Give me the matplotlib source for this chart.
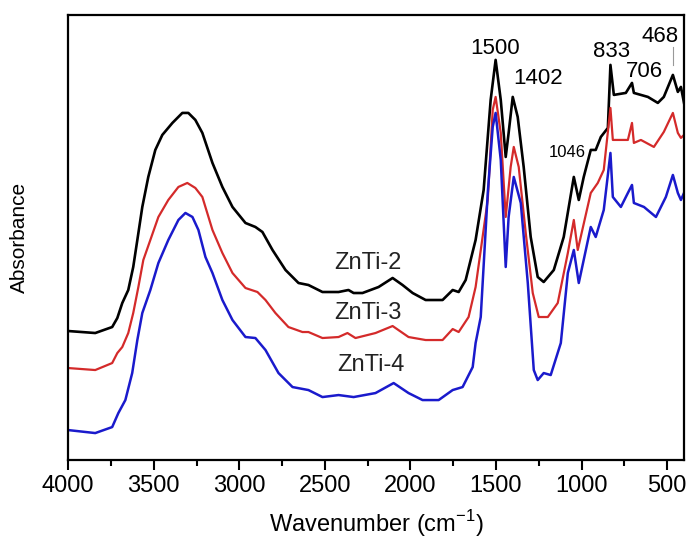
import matplotlib.pyplot as plt
import numpy as np

plt.rcParams['font.family'] = ['Liberation Sans', 'DejaVu Sans']
plt.rcParams['mathtext.fontset'] = 'custom'
plt.rcParams['mathtext.rm'] = 'Liberation Sans'

# ZnTi-2 (black)
wn_2 = np.array([4000, 3842, 3743, 3713, 3684, 3649, 3620, 3596, 3567, 3532, 3491, 3450,
                 3391, 3333, 3298, 3257, 3216, 3157, 3099, 3040, 2964, 2906, 2865, 2806,
                 2730, 2654, 2596, 2514, 2420, 2362, 2332, 2280, 2186, 2104, 2046, 1987,
                 1911, 1812, 1753, 1718, 1677, 1619, 1572, 1531, 1502, 1472, 1443, 1426,
                 1402, 1373, 1338, 1297, 1256, 1221, 1162, 1104, 1045, 1016, 987, 946,
                 917, 887, 846, 831, 811, 741, 705, 694, 612, 554, 519, 466, 437, 419, 401])
abs_2 = np.array([129, 127, 133, 142, 157, 170, 193, 220, 253, 283, 310, 325,
                  337, 347, 347, 340, 327, 297, 273, 253, 237, 233, 228, 210,
                  190, 177, 175, 168, 168, 170, 167, 167, 173, 182, 175, 167,
                  160, 160, 170, 168, 180, 220, 270, 360, 400, 360, 303, 327,
                  363, 343, 293, 223, 183, 178, 190, 223, 283, 260, 283, 310,
                  310, 323, 332, 395, 365, 367, 377, 367, 363, 357, 363, 385, 368, 373, 357])

# ZnTi-3 (red)
wn_3 = np.array([4000, 3842, 3743, 3713, 3684, 3649, 3620, 3590, 3561, 3520, 3473, 3415,
                 3356, 3304, 3257, 3216, 3157, 3099, 3040, 2964, 2894, 2847, 2789, 2713,
                 2631, 2596, 2514, 2420, 2368, 2321, 2204, 2104, 2011, 1911, 1812, 1753,
                 1718, 1660, 1619, 1548, 1519, 1502, 1472, 1443, 1414, 1396, 1367, 1326,
                 1285, 1250, 1197, 1139, 1080, 1045, 1022, 946, 905, 870, 831, 817, 729,
                 705, 694, 653, 577, 519, 466, 437, 419, 401])
abs_3 = np.array([92, 90, 97, 107, 113, 127, 147, 173, 200, 220, 243, 260,
                  273, 277, 272, 263, 230, 207, 187, 172, 168, 160, 147, 133,
                  128, 128, 122, 123, 127, 122, 127, 134, 123, 120, 120, 131,
                  128, 143, 173, 260, 350, 363, 327, 243, 293, 313, 293, 227,
                  167, 143, 143, 157, 207, 240, 210, 267, 277, 290, 352, 320, 320,
                  337, 317, 320, 313, 328, 347, 327, 322, 325])

# ZnTi-4 (blue)
wn_4 = np.array([4000, 3842, 3743, 3707, 3666, 3626, 3596, 3567, 3520, 3473, 3415, 3356,
                 3315, 3274, 3239, 3198, 3157, 3099, 3040, 2964, 2906, 2847, 2771, 2689,
                 2596, 2514, 2420, 2332, 2204, 2098, 2011, 1929, 1835, 1753, 1695, 1636,
                 1619, 1589, 1548, 1519, 1502, 1472, 1443, 1426, 1396, 1355, 1314, 1279,
                 1256, 1221, 1180, 1121, 1080, 1045, 1016, 946, 917, 870, 831, 817, 770,
                 729, 705, 694, 635, 565, 507, 466, 437, 419, 401])
abs_4 = np.array([30, 27, 33, 47, 60, 87, 120, 147, 170, 197, 220, 240,
                  247, 243, 230, 203, 187, 160, 140, 123, 122, 110, 87, 73,
                  70, 63, 65, 63, 67, 77, 67, 60, 60, 70, 73, 93,
                  117, 143, 267, 333, 347, 300, 193, 243, 283, 257, 177, 90,
                  80, 87, 85, 117, 187, 210, 177, 233, 223, 250, 307, 263, 253,
                  267, 275, 257, 253, 243, 263, 285, 267, 260, 267])

sample_names = ['ZnTi-2', 'ZnTi-3', 'ZnTi-4']
peak_labels = ['1500', '1402', '1046', '833', '706', '468']

fig = plt.figure(figsize=(6.89, 5.51), dpi=100)
ax = fig.add_axes([0.099, 0.165, 0.894, 0.808])

ax.plot(wn_2, abs_2, color='black', lw=1.9)
ax.plot(wn_3, abs_3, color='#d42a2a', lw=1.6)
ax.plot(wn_4, abs_4, color='#1a1acc', lw=1.8)

# sample names
ax.text(2250, 197, sample_names[0], fontsize=17, ha='center', va='center', color='#222222')
ax.text(2250, 147, sample_names[1], fontsize=17, ha='center', va='center', color='#222222')
ax.text(2230, 95, sample_names[2], fontsize=17, ha='center', va='center', color='#222222')

# peak positions
ax.text(1505, 411, peak_labels[0], fontsize=16, ha='center', va='center')
ax.text(1255, 381, peak_labels[1], fontsize=16, ha='center', va='center')
ax.text(1085, 307, peak_labels[2], fontsize=12, ha='center', va='center')
ax.text(824, 408, peak_labels[3], fontsize=16, ha='center', va='center')
ax.text(632, 388, peak_labels[4], fontsize=16, ha='center', va='center')
ax.text(543, 423, peak_labels[5], fontsize=16, ha='center', va='center')
ax.plot([466, 466], [395, 413], color='#999999', lw=0.8)

ax.set_xlim(4000, 400)
ax.set_ylim(0, 445)
ax.set_xticks([4000, 3500, 3000, 2500, 2000, 1500, 1000, 500])
ax.set_xticks(np.arange(3750, 400, -500), minor=True)
ax.set_yticks([])
ax.tick_params(axis='x', which='major', direction='out', length=7, width=1.5, labelsize=17, pad=4)
ax.tick_params(axis='x', which='minor', direction='out', length=4, width=1.5)
for s in ax.spines.values():
    s.set_linewidth(1.6)

ax.set_xlabel('Wavenumber (cm$^{-1}$)', fontsize=17, labelpad=8)
ax.set_ylabel('Absorbance', fontsize=15, labelpad=28)

fig.savefig('out.png', dpi=100)
